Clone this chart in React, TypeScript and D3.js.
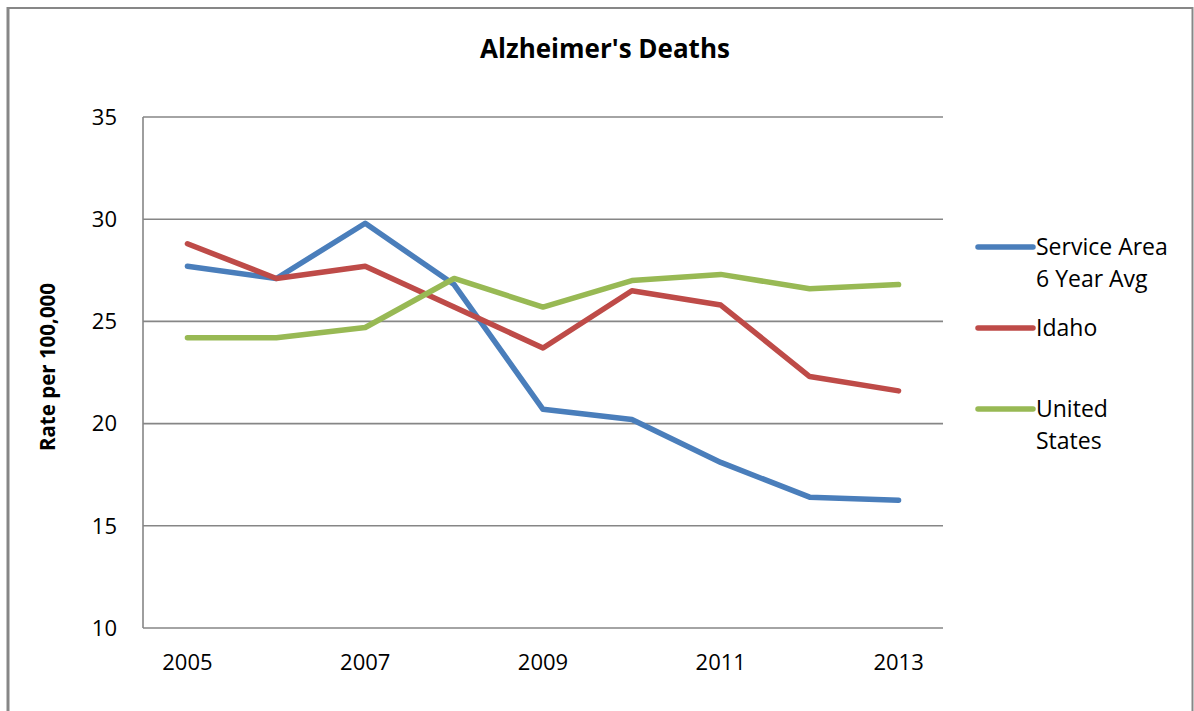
import React from "react";
import * as d3 from "d3";

const years = ["2005", "2006", "2007", "2008", "2009", "2010", "2011", "2012", "2013"];
const xTickLabels = ["2005", "2007", "2009", "2011", "2013"];
const yTicks = [10, 15, 20, 25, 30, 35];
const serviceArea = [27.7, 27.1, 29.8, 26.8, 20.7, 20.2, 18.1, 16.4, 16.25];
const idaho = [28.8, 27.1, 27.7, 25.7, 23.7, 26.5, 25.8, 22.3, 21.6];
const unitedStates = [24.2, 24.2, 24.7, 27.1, 25.7, 27.0, 27.3, 26.6, 26.8];
const seriesNames = [["Service Area", "6 Year Avg"], ["Idaho"], ["United", "States"]];
const seriesColors = ["#4A7EBB", "#BE4B48", "#98B954"];

const FONT = "'Open Sans', 'Noto Sans', sans-serif";

export default function App() {
  const left = 143, right = 943, top = 117, bottom = 628;
  const x = d3.scaleBand<string>().domain(years).range([left, right]);
  const y = d3.scaleLinear().domain([10, 35]).range([bottom, top]);
  const line = d3
    .line<number>()
    .x((_, i) => (x(years[i]) as number) + x.bandwidth() / 2)
    .y((d) => y(d));
  const allSeries = [serviceArea, idaho, unitedStates];
  const legendY = [247, 328, 409];
  const grid = "#868686";

  return (
    <svg
      width={1194}
      height={711}
      style={{ position: "absolute", left: 0, top: 0, background: "#fff" }}
      fontFamily={FONT}
    >
      <rect x={0} y={0} width={1194} height={711} fill="#fff" />
      <line x1={8} x2={8} y1={7} y2={711} stroke="#878787" strokeWidth={3} />
      <line x1={7} x2={1193} y1={8} y2={8} stroke="#878787" strokeWidth={2} />
      <line x1={1192.5} x2={1192.5} y1={7} y2={711} stroke="#878787" strokeWidth={2} />

      <text x={605} y={58} textAnchor="middle" fontSize={26} fontWeight="bold" fill="#000">
        Alzheimer's Deaths
      </text>

      {yTicks.map((t) => (
        <g key={t}>
          <line x1={left} x2={right} y1={y(t)} y2={y(t)} stroke={grid} strokeWidth={1.6} />
          <text x={117} y={y(t)} dy="0.35em" textAnchor="end" fontSize={22} fill="#000">
            {t}
          </text>
        </g>
      ))}
      <line x1={left} x2={left} y1={top} y2={bottom} stroke={grid} strokeWidth={1.6} />

      {xTickLabels.map((lab) => (
        <text
          key={lab}
          x={(x(lab) as number) + x.bandwidth() / 2}
          y={670}
          textAnchor="middle"
          fontSize={22}
          fill="#000"
        >
          {lab}
        </text>
      ))}

      <text
        transform={`translate(55, 367) rotate(-90)`}
        textAnchor="middle"
        fontSize={20.5}
        fontWeight="bold"
        fill="#000"
      >
        Rate per 100,000
      </text>

      {allSeries.map((s, i) => (
        <path
          key={i}
          d={line(s) as string}
          fill="none"
          stroke={seriesColors[i]}
          strokeWidth={5.5}
          strokeLinejoin="round"
          strokeLinecap="round"
        />
      ))}

      {seriesNames.map((names, i) => (
        <g key={i}>
          <line
            x1={978}
            x2={1033}
            y1={legendY[i]}
            y2={legendY[i]}
            stroke={seriesColors[i]}
            strokeWidth={5.5}
            strokeLinecap="round"
          />
          {names.map((n, j) => (
            <text key={j} x={1036} y={legendY[i] + 8 + j * 32} fontSize={23} fill="#000">
              {n}
            </text>
          ))}
        </g>
      ))}
    </svg>
  );
}
